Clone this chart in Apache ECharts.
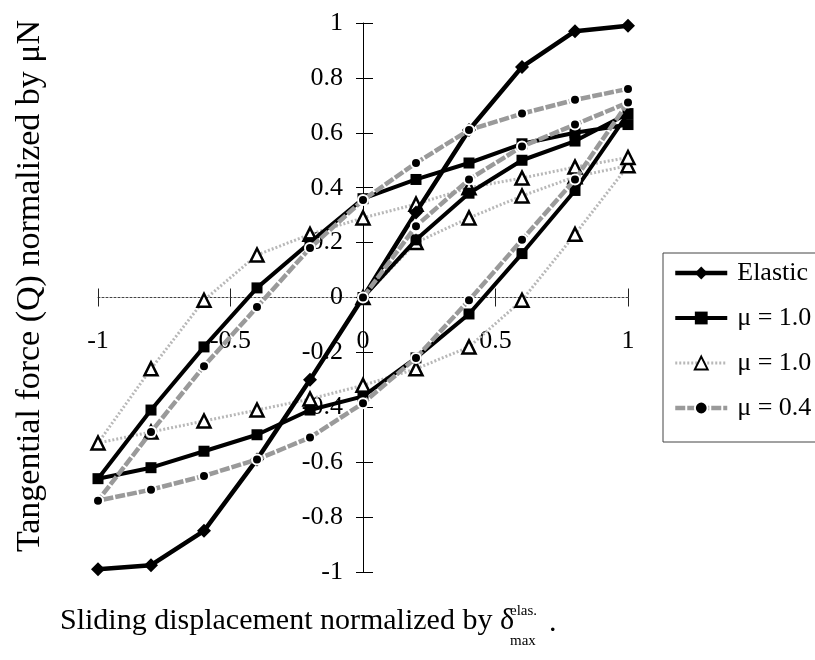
<!DOCTYPE html>
<html>
<head>
<meta charset="utf-8">
<script src="https://cdn.jsdelivr.net/npm/echarts@6/dist/echarts.min.js"></script>
<style>
  html, body { margin: 0; padding: 0; background: #fff; }
  #chart { width: 815px; height: 660px; }
</style>
</head>
<body>
<div id="chart"></div>
<script>
// Normalized sliding displacement for the elastic curve (single pass)
const elasticX = [-1, -0.8, -0.6, -0.4, -0.2, 0, 0.2, 0.4, 0.6, 0.8, 1];
const elasticQ = [-0.99, -0.975, -0.85, -0.59, -0.3, 0, 0.31, 0.61, 0.84, 0.97, 0.99];

// Displacement path of a fretting cycle: initial loading 0 -> 1, unloading 1 -> -1, reloading -1 -> 1
const loopX = [0, 0.2, 0.4, 0.6, 0.8, 1,
  0.8, 0.6, 0.4, 0.2, 0, -0.2, -0.4, -0.6, -0.8, -1,
  -0.8, -0.6, -0.4, -0.2, 0, 0.2, 0.4, 0.6, 0.8, 1];

// Normalized tangential force along the cycle
const squareQ = [0, 0.21, 0.38, 0.50, 0.57, 0.67,
  0.39, 0.16, -0.06, -0.22, -0.36, -0.41, -0.50, -0.56, -0.62, -0.66,
  -0.41, -0.18, 0.035, 0.20, 0.36, 0.43, 0.49, 0.56, 0.60, 0.63];
const triangleQ = [0, 0.20, 0.29, 0.37, 0.44, 0.48,
  0.23, -0.01, -0.18, -0.26, -0.32, -0.37, -0.41, -0.45, -0.49, -0.53,
  -0.26, -0.01, 0.155, 0.23, 0.29, 0.34, 0.40, 0.435, 0.475, 0.51];
const circleQ = [0, 0.26, 0.43, 0.55, 0.63, 0.71,
  0.43, 0.21, -0.01, -0.22, -0.385, -0.51, -0.59, -0.65, -0.70, -0.74,
  -0.49, -0.25, -0.035, 0.18, 0.355, 0.49, 0.61, 0.67, 0.72, 0.76];

const seriesNames = ['Elastic', 'μ = 1.0', 'μ = 1.0\u00a0', 'μ = 0.4'];

const xTickValues = [-1, -0.5, 0, 0.5, 1];

const serif = '"Liberation Serif", "DejaVu Serif", serif';

function zip(xs, ys) {
  return xs.map((x, i) => [x, ys[i]]);
}

const W = 815, H = 660;
const gridBox = { left: 98, right: 187, top: 23, bottom: 88 };
// The axes cross at the origin, in the middle of the plot area
const shiftY = -(W - gridBox.left - gridBox.right) / 2;
const shiftX = -(H - gridBox.top - gridBox.bottom) / 2;

const chart = echarts.init(document.getElementById('chart'), null, { renderer: 'canvas' });

const baseX = {
  type: 'value', min: -1, max: 1, interval: 0.5, position: 'bottom', offset: shiftX,
  splitLine: { show: false }
};
const baseY = {
  type: 'value', min: -1, max: 1, interval: 0.2, position: 'left', offset: shiftY,
  splitLine: { show: false }
};

chart.setOption({
  animation: false,
  backgroundColor: '#fff',
  grid: gridBox,
  xAxis: [
    Object.assign({}, baseX, {
      axisLine: { onZero: false, lineStyle: { color: '#444', width: 1, type: [2, 2] } },
      axisTick: { show: true, length: 9, inside: false, lineStyle: { color: '#222', width: 1 } },
      axisLabel: {
        margin: 31, color: '#000', fontFamily: serif, fontSize: 26,
        formatter: v => (xTickValues.indexOf(v) >= 0 ? String(v) : '')
      }
    }),
    Object.assign({}, baseX, {
      axisLine: { show: false, onZero: false },
      axisTick: { show: true, length: 9, inside: true, lineStyle: { color: '#222', width: 1 } },
      axisLabel: { show: false }
    })
  ],
  yAxis: [
    Object.assign({}, baseY, {
      axisLine: { onZero: false, lineStyle: { color: '#000', width: 1 } },
      axisTick: { show: true, length: 7, inside: false, lineStyle: { color: '#000', width: 1 } },
      axisLabel: {
        margin: 20, color: '#000', fontFamily: serif, fontSize: 26,
        formatter: v => String(Math.round(v * 10) / 10)
      }
    }),
    Object.assign({}, baseY, {
      axisLine: { show: false, onZero: false },
      axisTick: { show: true, length: 10, inside: true, lineStyle: { color: '#000', width: 1 } },
      axisLabel: { show: false }
    })
  ],
  legend: {
    orient: 'vertical',
    left: 663, top: 253,
    padding: [7, 12, 21, 10],
    itemGap: 19,
    itemWidth: 52,
    itemHeight: 16,
    borderColor: '#444', borderWidth: 1,
    backgroundColor: '#fff',
    textStyle: { color: '#000', fontFamily: serif, fontSize: 26, lineHeight: 26, padding: [0, 0, 0, 5] },
    data: [
      { name: seriesNames[0], lineStyle: { width: 4.5 } },
      { name: seriesNames[1], lineStyle: { width: 4 } },
      { name: seriesNames[2], lineStyle: { width: 3 } },
      { name: seriesNames[3], lineStyle: { width: 4.5 } }
    ]
  },
  series: [
    {
      name: seriesNames[2], type: 'line', z: 2,
      xAxisIndex: 0, yAxisIndex: 0,
      data: zip(loopX, triangleQ),
      symbol: 'triangle', symbolSize: 13,
      lineStyle: { color: '#b8b8b8', width: 3, type: [2, 2] },
      itemStyle: { color: '#fff', borderColor: '#000', borderWidth: 2.5 }
    },
    {
      name: seriesNames[1], type: 'line', z: 3,
      xAxisIndex: 0, yAxisIndex: 0,
      data: zip(loopX, squareQ),
      symbol: 'rect', symbolSize: 11,
      lineStyle: { color: '#000', width: 4 },
      itemStyle: { color: '#000' }
    },
    {
      name: seriesNames[0], type: 'line', z: 4,
      xAxisIndex: 0, yAxisIndex: 0,
      data: zip(elasticX, elasticQ),
      symbol: 'diamond', symbolSize: 14,
      lineStyle: { color: '#000', width: 4.5 },
      itemStyle: { color: '#000' }
    },
    {
      name: seriesNames[3], type: 'line', z: 5,
      xAxisIndex: 0, yAxisIndex: 0,
      data: zip(loopX, circleQ),
      symbol: 'circle', symbolSize: 10,
      lineStyle: { color: '#9a9a9a', width: 4.5, type: [10, 2] },
      itemStyle: { color: '#000', borderColor: '#fff', borderWidth: 2 }
    }
  ],
  graphic: [
    {
      type: 'text', x: 30, y: 286, rotation: Math.PI / 2,
      style: {
        text: 'Tangential force (Q) normalized by μN',
        font: '34px ' + serif, fill: '#000',
        textAlign: 'center', textVerticalAlign: 'middle'
      }
    },
    {
      type: 'text', x: 60, y: 621,
      style: {
        text: 'Sliding displacement normalized by δ',
        font: '30px ' + serif, fill: '#000',
        textAlign: 'left', textVerticalAlign: 'middle'
      }
    },
    {
      type: 'text', x: 510, y: 611,
      style: { text: 'elas.', font: '15px ' + serif, fill: '#000', textAlign: 'left', textVerticalAlign: 'middle' }
    },
    {
      type: 'text', x: 510, y: 641,
      style: { text: 'max', font: '15px ' + serif, fill: '#000', textAlign: 'left', textVerticalAlign: 'middle' }
    },
    {
      type: 'text', x: 549, y: 623,
      style: { text: '.', font: '30px ' + serif, fill: '#000', textAlign: 'left', textVerticalAlign: 'middle' }
    }
  ]
});
</script>
</body>
</html>
